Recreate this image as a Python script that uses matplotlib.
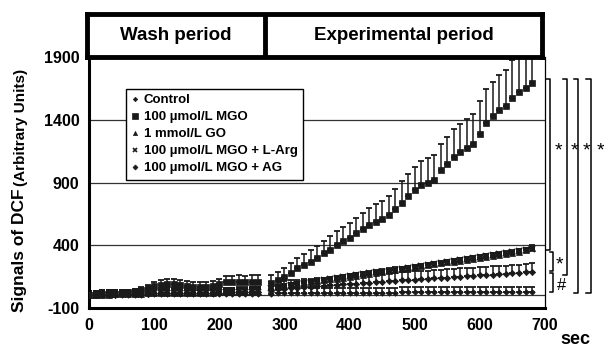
import numpy as np
import matplotlib
matplotlib.use("Agg")
from matplotlib import pyplot as plt

plt.rcParams['font.family'] = ['Liberation Sans', 'DejaVu Sans']
plt.rcParams['font.weight'] = 'bold'
plt.rcParams['axes.unicode_minus'] = False

# sampling times (sec)
t_wash = [0, 10, 20, 30, 40, 50, 60, 70, 80, 90, 100, 110, 120, 130, 140, 150, 160,
          170, 180, 190, 200, 210, 220, 230, 240, 250, 260]
t_exp = [280, 290, 300, 310, 320, 330, 340, 350, 360, 370, 380, 390, 400, 410, 420,
         430, 440, 450, 460, 470, 480, 490, 500, 510, 520, 530, 540, 550, 560, 570,
         580, 590, 600, 610, 620, 630, 640, 650, 660, 670, 680]

labels = ['Control', '100 µmol/L MGO', '1 mmol/L GO',
          '100 µmol/L MGO + L-Arg', '100 µmol/L MGO + AG']

# wash period values
ctl_w = [0, 2, 3, 4, 5, 5, 6, 6, 7, 8, 8, 9, 9, 10, 10, 10, 10, 10, 11, 11, 12, 12, 12, 13, 13, 13, 14]
mgo_w = [0, 5, 10, 12, 15, 20, 25, 30, 45, 60, 75, 85, 88, 90, 85, 75, 70, 68, 70, 72,
         90, 105, 108, 110, 105, 108, 110]
go_w = [0, 3, 5, 6, 8, 10, 11, 12, 14, 16, 18, 20, 21, 22, 22, 21, 20, 20, 21, 22, 24,
        26, 27, 28, 28, 29, 30]
arg_w = [0, 3, 5, 7, 8, 10, 12, 13, 15, 17, 19, 21, 22, 23, 23, 22, 21, 21, 22, 23, 25,
         27, 28, 29, 29, 30, 31]
ag_w = [0, 2, 4, 5, 7, 8, 10, 11, 12, 14, 16, 18, 19, 20, 20, 19, 18, 18, 19, 20, 22,
        24, 25, 26, 26, 27, 28]

# experimental period values
ctl_e = [15, 16, 16, 17, 17, 18, 18, 19, 19, 20, 20, 20, 21, 21, 22, 22, 22, 23, 23, 23,
         24, 24, 24, 25, 25, 25, 26, 26, 26, 27, 27, 27, 28, 28, 28, 29, 29, 29, 30, 30, 30]
mgo_e = [100, 120, 150, 180, 215, 245, 270, 300, 335, 365, 400, 430, 460, 495, 530, 560,
         585, 610, 640, 690, 740, 790, 840, 880, 900, 920, 1000, 1050, 1105, 1140, 1175,
         1205, 1290, 1375, 1430, 1475, 1510, 1575, 1625, 1655, 1690]
go_e = [55, 64, 72, 80, 88, 97, 104, 112, 120, 128, 135, 142, 150, 158, 165, 172, 180,
        188, 196, 204, 210, 218, 226, 233, 240, 248, 256, 263, 270, 278, 286, 294, 302,
        310, 318, 325, 333, 341, 350, 360, 380]
arg_e = [60, 68, 76, 84, 92, 100, 108, 115, 122, 130, 137, 145, 152, 160, 168, 175, 183,
         190, 198, 206, 213, 220, 228, 236, 243, 250, 258, 266, 273, 281, 289, 296, 304,
         312, 320, 327, 335, 343, 352, 362, 372]
ag_e = [45, 50, 54, 58, 62, 66, 70, 74, 78, 82, 85, 88, 92, 95, 98, 101, 104, 108, 112,
        116, 120, 123, 126, 130, 133, 136, 140, 143, 146, 150, 153, 156, 160, 163, 166,
        170, 173, 176, 180, 185, 190]

# upper error bars
mgo_err_w = [10, 10, 10, 12, 12, 15, 15, 18, 20, 25, 30, 35, 40, 45, 40, 40, 40, 40, 40,
             40, 45, 50, 50, 50, 50, 55, 55]
mgo_err_e = [60, 65, 70, 75, 80, 85, 90, 95, 100, 105, 110, 115, 120, 125, 130, 135, 140,
             145, 150, 160, 170, 175, 180, 190, 195, 200, 210, 215, 220, 230, 235, 240,
             260, 270, 275, 285, 290, 300, 310, 315, 320]
ctl_err = 40
go_err = 20
arg_err = 15
ag_err = 65
small_err_w = 35

fig = plt.figure(figsize=(6.04, 3.5), dpi=100)
ax = fig.add_axes([0.1474, 0.12, 0.755, 0.717])

styles = [
    (ctl_w, ctl_e, small_err_w, ctl_err, 'D', 2.8),
    (mgo_w, mgo_e, mgo_err_w, mgo_err_e, 's', 5),
    (go_w, go_e, small_err_w, go_err, '^', 3.8),
    (arg_w, arg_e, small_err_w, arg_err, 'x', 3.8),
    (ag_w, ag_e, small_err_w, ag_err, 'D', 3.2),
]

handles = []
for (yw, ye, ew, ee, mk, ms), lab in zip(styles, labels):
    for tt, yy, ee_ in ((t_wash, yw, ew), (t_exp, ye, ee)):
        up = np.broadcast_to(np.asarray(ee_, dtype=float), (len(yy),))
        ax.errorbar(tt, yy, yerr=[np.zeros(len(yy)), up], fmt='none', ecolor='#1a1a1a',
                    elinewidth=1.1, capsize=2.2, capthick=1.3, zorder=2)
        ax.plot(tt, yy, linestyle='none', marker=mk, markersize=ms, color='#1a1a1a',
                markeredgewidth=1.3 if mk == 'x' else 0.5, zorder=3)
    h, = ax.plot([], [], linestyle='none', marker=mk, markersize=ms * 0.8, color='#1a1a1a',
                 markeredgewidth=1.2 if mk == 'x' else 0.5)
    handles.append(h)

for g in [0, 400, 900, 1400]:
    ax.axhline(g, color='#333333', linewidth=0.9, zorder=1)

ax.set_xlim(0, 700)
ax.set_ylim(-100, 1900)
ax.set_xticks([0, 100, 200, 300, 400, 500, 600, 700])
ax.set_yticks([-100, 400, 900, 1400, 1900])
ax.tick_params(length=0, labelsize=11.5, pad=7)
for lab in ax.get_xticklabels() + ax.get_yticklabels():
    lab.set_fontweight('bold')
ax.spines['top'].set_visible(False)
ax.spines['left'].set_linewidth(2.2)
ax.spines['bottom'].set_linewidth(2.2)
ax.spines['right'].set_linewidth(0.9)

leg = ax.legend(handles, labels, loc='upper left', bbox_to_anchor=(0.081, 0.873),
                frameon=True, fancybox=False, edgecolor='black', framealpha=1,
                prop={'weight': 'bold', 'size': 9.5}, handlelength=0.5, handletextpad=0.45,
                labelspacing=0.36, borderpad=0.4, borderaxespad=0)
leg.get_frame().set_linewidth(1.0)
leg.set_zorder(5)

# significance brackets on the right
def bracket(x, y0, y1, w=7):
    ax.plot([x - w, x, x, x - w], [y1, y1, y0, y0], color='black', linewidth=1.1,
            clip_on=False)

bracket(708, 364, 1724)
bracket(734, 164, 1724)
bracket(751, 20, 1724)
bracket(770, 20, 1724)
bracket(712, 196, 348, w=5)
bracket(712, 28, 180, w=5)
for sx in [721, 745, 764, 785]:
    ax.text(sx, 1150, '*', fontsize=14, fontweight='normal', ha='center', va='center',
            clip_on=False)
ax.text(722, 245, '*', fontsize=14, fontweight='normal', ha='center', va='center')
ax.text(725, 80, '#', fontsize=12, fontweight='normal', ha='center', va='center')

fig.text(575 / 604, 1 - 339 / 350, 'sec', fontsize=13, fontweight='bold',
         ha='center', va='center')

# y label (two sizes)
fig.text(20 / 604, 1 - 312 / 350, 'Signals of DCF', rotation=90, fontsize=12.5,
         fontweight='bold', ha='center', va='bottom')
fig.text(21 / 604, 1 - 186 / 350, '(Arbitrary Units)', rotation=90, fontsize=11,
         fontweight='bold', ha='center', va='bottom')

# header box
hx = fig.add_axes([87 / 604, 1 - 57 / 350, (542 - 87) / 604, 43 / 350])
hx.set_xlim(0, 1)
hx.set_ylim(0, 1)
hx.set_xticks([])
hx.set_yticks([])
for s in hx.spines.values():
    s.set_linewidth(3.5)
div = (265 - 87) / (542 - 87)
hx.axvline(div, color='black', linewidth=3.5)
hx.text(div / 2, 0.5, 'Wash period', fontsize=13.5, fontweight='bold',
        ha='center', va='center')
hx.text((div + 1) / 2, 0.5, 'Experimental period', fontsize=13.5, fontweight='bold',
        ha='center', va='center')

plt.savefig('out.png', dpi=100)
